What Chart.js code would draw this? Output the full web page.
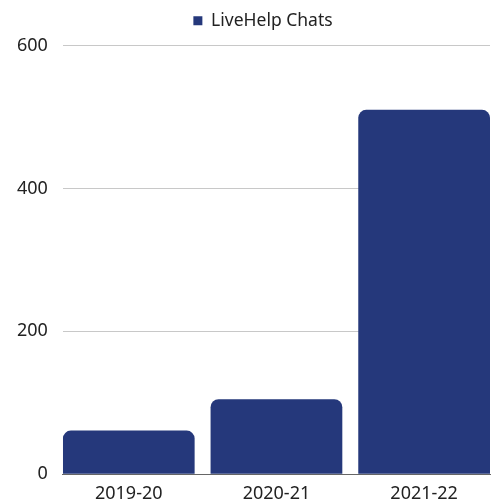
<!DOCTYPE html>
<html>
<head>
<meta charset="utf-8">
<script src="https://cdn.jsdelivr.net/npm/chart.js@4"></script>
<style>
  html, body { margin: 0; padding: 0; background: #fff; }
  #wrap { width: 495px; height: 500px; }
</style>
</head>
<body>
<div id="wrap"><canvas id="c"></canvas></div>
<script>
const categories = ['2019-20', '2020-21', '2021-22'];
const seriesName = 'LiveHelp Chats';
const chatValues = [61, 105, 510];
const yTicks = [0, 200, 400, 600];

const FONT = "'Noto Sans', 'Open Sans', sans-serif";
const NAVY = '#25387b';

const legendTweak = {
  id: 'legendTweak',
  beforeInit(chart) {
    const lg = chart.legend;
    if (!lg) return;
    const origFit = lg.fit;
    lg.fit = function () { origFit.call(this); this.height += 6; };
  },
  afterLayout(chart) {
    const lg = chart.legend;
    if (!lg) return;
    lg.left += 17; lg.right += 17;
  }
};

new Chart(document.getElementById('c'), {
  type: 'bar',
  data: {
    labels: categories,
    datasets: [{
      label: seriesName,
      data: chatValues,
      backgroundColor: NAVY,
      borderRadius: 8,
      borderSkipped: 'start',
      categoryPercentage: 1,
      barPercentage: 0.892
    }]
  },
  plugins: [legendTweak],
  options: {
    responsive: true,
    maintainAspectRatio: false,
    animation: false,
    layout: { padding: { left: 2, right: 5, top: 0, bottom: -14 } },
    plugins: {
      legend: {
        display: true,
        position: 'top',
        labels: {
          boxWidth: 9, boxHeight: 9, padding: 12,
          color: '#222', font: { family: FONT, size: 17.5 }
        }
      },
      tooltip: { enabled: false }
    },
    scales: {
      x: {
        grid: { display: false, drawTicks: false },
        border: { display: true, color: '#666', width: 1 },
        ticks: { color: '#222', padding: 9, font: { family: FONT, size: 18 } },
        afterBuildTicks: (scale) => {
          const n = categories.length;
          const edge = 0.446;
          scale._startValue = -edge;
          scale._valueRange = (n - 1) + 2 * edge;
        }
      },
      y: {
        min: 0, max: 600,
        afterBuildTicks: (scale) => { scale.ticks = yTicks.map(v => ({ value: v })); },
        grid: {
          drawTicks: false,
          color: (ctx) => ctx.tick && ctx.tick.value === 0 ? '#666' : '#c8c8c8',
          lineWidth: 1
        },
        border: { display: false },
        ticks: { color: '#222', padding: 15, font: { family: FONT, size: 18 } }
      }
    }
  }
});
</script>
</body>
</html>
